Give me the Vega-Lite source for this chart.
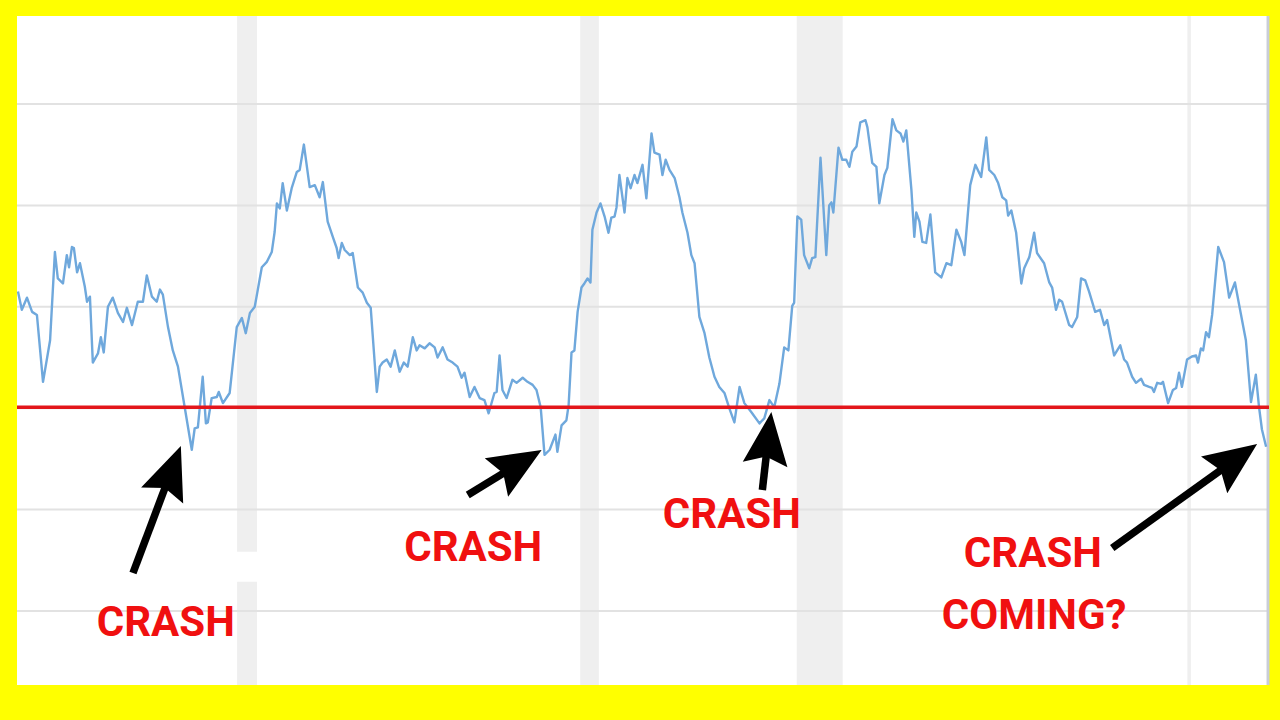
{
  "$schema": "https://vega.github.io/schema/vega-lite/v6.json",
  "width": 1252,
  "height": 669,
  "autosize": {"type": "none"},
  "padding": {"left": 17, "top": 16, "right": 11, "bottom": 35},
  "background": "#ffff00",
  "config": {"view": {"fill": "#ffffff", "stroke": null}},
  "datasets": {
    "series": [
      {"t":1983.79,"v":91.5},{"t":1983.91,"v":89.7},{"t":1984.07,"v":90.9},{"t":1984.23,"v":89.5},{"t":1984.38,"v":89.2},{"t":1984.57,"v":82.6},{"t":1984.79,"v":86.7},{"t":1984.94,"v":95.4},{"t":1985.03,"v":92.8},{"t":1985.19,"v":92.3},{"t":1985.31,"v":95.1},{"t":1985.38,"v":93.9},{"t":1985.47,"v":95.9},{"t":1985.53,"v":95.8},{"t":1985.63,"v":93.4},{"t":1985.72,"v":94.3},{"t":1985.87,"v":92.0},{"t":1985.94,"v":90.5},{"t":1986.03,"v":91.0},{"t":1986.12,"v":84.5},{"t":1986.28,"v":85.4},{"t":1986.37,"v":87.0},{"t":1986.46,"v":85.5},{"t":1986.59,"v":90.0},{"t":1986.74,"v":90.9},{"t":1986.90,"v":89.4},{"t":1987.06,"v":88.5},{"t":1987.18,"v":89.9},{"t":1987.34,"v":88.2},{"t":1987.52,"v":90.5},{"t":1987.68,"v":90.5},{"t":1987.80,"v":93.1},{"t":1987.96,"v":91.0},{"t":1988.11,"v":90.5},{"t":1988.21,"v":91.7},{"t":1988.30,"v":91.2},{"t":1988.46,"v":88.0},{"t":1988.61,"v":85.7},{"t":1988.77,"v":84.1},{"t":1988.98,"v":80.1},{"t":1989.20,"v":75.9},{"t":1989.29,"v":78.0},{"t":1989.39,"v":78.1},{"t":1989.54,"v":83.1},{"t":1989.64,"v":78.5},{"t":1989.70,"v":78.6},{"t":1989.82,"v":81.0},{"t":1989.98,"v":81.1},{"t":1990.04,"v":81.6},{"t":1990.17,"v":80.5},{"t":1990.38,"v":81.5},{"t":1990.60,"v":88.0},{"t":1990.76,"v":88.9},{"t":1990.88,"v":87.4},{"t":1991.01,"v":89.4},{"t":1991.16,"v":90.0},{"t":1991.38,"v":93.9},{"t":1991.53,"v":94.4},{"t":1991.69,"v":95.4},{"t":1991.78,"v":97.4},{"t":1991.85,"v":100.2},{"t":1991.94,"v":99.7},{"t":1992.03,"v":102.2},{"t":1992.16,"v":99.5},{"t":1992.31,"v":101.7},{"t":1992.47,"v":103.3},{"t":1992.56,"v":103.5},{"t":1992.69,"v":106.0},{"t":1992.87,"v":101.8},{"t":1993.03,"v":102.0},{"t":1993.18,"v":100.8},{"t":1993.28,"v":102.3},{"t":1993.43,"v":98.4},{"t":1993.59,"v":96.9},{"t":1993.71,"v":95.8},{"t":1993.77,"v":94.8},{"t":1993.87,"v":96.3},{"t":1993.96,"v":95.6},{"t":1994.12,"v":95.1},{"t":1994.21,"v":95.3},{"t":1994.37,"v":91.9},{"t":1994.52,"v":91.4},{"t":1994.65,"v":90.4},{"t":1994.77,"v":89.9},{"t":1994.96,"v":81.6},{"t":1995.05,"v":84.1},{"t":1995.14,"v":84.5},{"t":1995.27,"v":84.8},{"t":1995.39,"v":84.1},{"t":1995.52,"v":85.7},{"t":1995.67,"v":83.6},{"t":1995.80,"v":84.5},{"t":1995.92,"v":84.1},{"t":1996.08,"v":87.0},{"t":1996.20,"v":85.7},{"t":1996.29,"v":86.2},{"t":1996.45,"v":85.9},{"t":1996.60,"v":86.4},{"t":1996.76,"v":86.0},{"t":1996.85,"v":85.0},{"t":1997.01,"v":86.0},{"t":1997.16,"v":84.8},{"t":1997.32,"v":84.5},{"t":1997.47,"v":84.1},{"t":1997.60,"v":83.0},{"t":1997.69,"v":83.5},{"t":1997.85,"v":81.1},{"t":1998.00,"v":82.1},{"t":1998.16,"v":81.0},{"t":1998.31,"v":80.8},{"t":1998.44,"v":79.5},{"t":1998.62,"v":81.5},{"t":1998.69,"v":81.6},{"t":1998.78,"v":85.2},{"t":1998.87,"v":81.8},{"t":1999.00,"v":81.0},{"t":1999.18,"v":82.8},{"t":1999.31,"v":82.5},{"t":1999.50,"v":83.0},{"t":1999.65,"v":82.6},{"t":1999.81,"v":82.3},{"t":1999.93,"v":81.8},{"t":2000.06,"v":80.1},{"t":2000.18,"v":75.4},{"t":2000.34,"v":75.9},{"t":2000.52,"v":77.4},{"t":2000.58,"v":75.7},{"t":2000.71,"v":78.3},{"t":2000.86,"v":78.8},{"t":2000.93,"v":80.3},{"t":2001.02,"v":85.5},{"t":2001.11,"v":85.7},{"t":2001.21,"v":89.5},{"t":2001.33,"v":91.9},{"t":2001.42,"v":92.3},{"t":2001.52,"v":92.8},{"t":2001.61,"v":92.4},{"t":2001.67,"v":97.6},{"t":2001.80,"v":99.3},{"t":2001.92,"v":100.2},{"t":2002.05,"v":98.9},{"t":2002.17,"v":97.3},{"t":2002.26,"v":98.8},{"t":2002.36,"v":98.9},{"t":2002.42,"v":99.8},{"t":2002.51,"v":103.0},{"t":2002.67,"v":99.3},{"t":2002.76,"v":102.7},{"t":2002.86,"v":101.7},{"t":2002.98,"v":103.0},{"t":2003.07,"v":102.2},{"t":2003.23,"v":104.0},{"t":2003.35,"v":100.7},{"t":2003.51,"v":107.1},{"t":2003.60,"v":105.2},{"t":2003.76,"v":105.0},{"t":2003.85,"v":103.0},{"t":2003.95,"v":104.5},{"t":2004.07,"v":103.5},{"t":2004.23,"v":102.7},{"t":2004.38,"v":100.8},{"t":2004.47,"v":99.3},{"t":2004.63,"v":97.3},{"t":2004.75,"v":95.1},{"t":2004.85,"v":94.3},{"t":2005.00,"v":89.0},{"t":2005.16,"v":87.4},{"t":2005.31,"v":85.0},{"t":2005.47,"v":83.1},{"t":2005.62,"v":82.1},{"t":2005.78,"v":81.5},{"t":2005.93,"v":80.0},{"t":2006.09,"v":78.6},{"t":2006.25,"v":82.1},{"t":2006.40,"v":80.5},{"t":2006.62,"v":79.6},{"t":2006.87,"v":78.5},{"t":2007.02,"v":79.0},{"t":2007.18,"v":80.8},{"t":2007.33,"v":80.1},{"t":2007.49,"v":82.4},{"t":2007.64,"v":86.0},{"t":2007.77,"v":85.7},{"t":2007.89,"v":90.1},{"t":2007.95,"v":90.4},{"t":2008.05,"v":98.9},{"t":2008.17,"v":98.6},{"t":2008.26,"v":95.1},{"t":2008.42,"v":93.8},{"t":2008.51,"v":94.8},{"t":2008.61,"v":94.9},{"t":2008.77,"v":104.7},{"t":2008.95,"v":95.1},{"t":2009.04,"v":100.0},{"t":2009.11,"v":100.3},{"t":2009.17,"v":99.3},{"t":2009.33,"v":105.7},{"t":2009.45,"v":104.5},{"t":2009.57,"v":104.5},{"t":2009.67,"v":103.8},{"t":2009.76,"v":105.3},{"t":2009.89,"v":105.8},{"t":2010.01,"v":108.2},{"t":2010.17,"v":108.4},{"t":2010.23,"v":107.7},{"t":2010.38,"v":104.2},{"t":2010.51,"v":103.8},{"t":2010.60,"v":100.2},{"t":2010.76,"v":103.0},{"t":2010.85,"v":103.7},{"t":2011.01,"v":108.5},{"t":2011.13,"v":107.4},{"t":2011.26,"v":107.1},{"t":2011.35,"v":106.3},{"t":2011.44,"v":107.4},{"t":2011.60,"v":101.5},{"t":2011.69,"v":96.9},{"t":2011.75,"v":99.3},{"t":2011.85,"v":98.4},{"t":2011.94,"v":96.4},{"t":2012.06,"v":96.3},{"t":2012.19,"v":99.1},{"t":2012.34,"v":93.4},{"t":2012.53,"v":92.9},{"t":2012.69,"v":94.3},{"t":2012.84,"v":94.1},{"t":2013.00,"v":97.6},{"t":2013.15,"v":96.4},{"t":2013.25,"v":95.1},{"t":2013.43,"v":102.0},{"t":2013.59,"v":104.0},{"t":2013.77,"v":102.8},{"t":2013.93,"v":106.7},{"t":2014.02,"v":103.5},{"t":2014.18,"v":103.0},{"t":2014.30,"v":102.2},{"t":2014.43,"v":100.8},{"t":2014.55,"v":100.5},{"t":2014.61,"v":99.0},{"t":2014.71,"v":99.5},{"t":2014.86,"v":97.3},{"t":2015.02,"v":92.3},{"t":2015.11,"v":93.8},{"t":2015.27,"v":94.9},{"t":2015.42,"v":97.3},{"t":2015.51,"v":95.3},{"t":2015.73,"v":94.3},{"t":2015.89,"v":92.4},{"t":2015.98,"v":91.9},{"t":2016.10,"v":89.7},{"t":2016.20,"v":90.7},{"t":2016.29,"v":90.5},{"t":2016.51,"v":88.2},{"t":2016.60,"v":88.0},{"t":2016.76,"v":89.0},{"t":2016.88,"v":92.8},{"t":2017.01,"v":92.6},{"t":2017.13,"v":91.5},{"t":2017.32,"v":89.5},{"t":2017.47,"v":89.7},{"t":2017.60,"v":88.2},{"t":2017.69,"v":88.7},{"t":2017.91,"v":85.2},{"t":2018.10,"v":86.2},{"t":2018.22,"v":84.8},{"t":2018.31,"v":84.5},{"t":2018.47,"v":83.1},{"t":2018.59,"v":82.5},{"t":2018.75,"v":82.9},{"t":2018.84,"v":82.3},{"t":2019.00,"v":82.1},{"t":2019.09,"v":82.0},{"t":2019.15,"v":81.6},{"t":2019.25,"v":82.5},{"t":2019.37,"v":82.4},{"t":2019.43,"v":82.6},{"t":2019.59,"v":80.5},{"t":2019.74,"v":81.8},{"t":2019.84,"v":82.0},{"t":2019.93,"v":83.5},{"t":2020.02,"v":82.1},{"t":2020.18,"v":84.8},{"t":2020.33,"v":85.1},{"t":2020.46,"v":85.2},{"t":2020.52,"v":84.5},{"t":2020.61,"v":85.9},{"t":2020.68,"v":85.7},{"t":2020.77,"v":87.5},{"t":2020.86,"v":87.0},{"t":2020.96,"v":89.2},{"t":2021.15,"v":95.9},{"t":2021.33,"v":94.4},{"t":2021.49,"v":90.9},{"t":2021.67,"v":92.4},{"t":2021.80,"v":90.2},{"t":2022.01,"v":86.7},{"t":2022.17,"v":80.6},{"t":2022.32,"v":83.3},{"t":2022.42,"v":80.1},{"t":2022.51,"v":77.9},{"t":2022.64,"v":76.2}
    ],
    "recessions": [
      {"start": 1990.61, "end": 1991.23, "lo": 65.85, "hi": 118.68},
      {"start": 1990.61, "end": 1991.23, "lo": 52.7, "hi": 62.89},
      {"start": 2001.29, "end": 2001.87, "lo": 52.7, "hi": 118.68},
      {"start": 2008.03, "end": 2009.46, "lo": 52.7, "hi": 118.68},
      {"start": 2020.19, "end": 2020.30, "lo": 52.7, "hi": 118.68}
    ],
    "grid": [{"g": 60}, {"g": 70}, {"g": 80}, {"g": 90}, {"g": 100}, {"g": 110}],
    "threshold": [{"level": 80.1}],
    "edge": [{"e": 2022.70}],
    "arrows": [
      {"tx": 1987.37, "ty": 63.75, "sx": 1988.53, "sy": 73.51, "hx": 1988.86, "hy": 76.27, "dir": 20.7},
      {"tx": 1997.79, "ty": 71.44, "sx": 1999.42, "sy": 74.60, "hx": 2000.09, "hy": 75.88, "dir": 58.7},
      {"tx": 2006.96, "ty": 71.93, "sx": 2007.13, "sy": 76.67, "hx": 2007.24, "hy": 79.63, "dir": 6.8},
      {"tx": 2017.85, "ty": 66.21, "sx": 2021.73, "sy": 75.03, "hx": 2022.36, "hy": 76.47, "dir": 54.3}
    ],
    "labels": [
      {"x": 1988.39, "y": 58.82, "text": "CRASH"},
      {"x": 1997.96, "y": 66.21, "text": "CRASH"},
      {"x": 2006.01, "y": 69.47, "text": "CRASH"},
      {"x": 2015.38, "y": 65.62, "text": "CRASH"},
      {"x": 2015.42, "y": 59.51, "text": "COMING?"}
    ]
  },
  "layer": [
    {
      "data": {"name": "recessions"},
      "mark": {"type": "rect", "color": "#efefef"},
      "encoding": {
        "x": {"field": "start", "type": "quantitative", "scale": {"domain": [1983.76, 2022.73], "nice": false, "zero": false}, "axis": null},
        "x2": {"field": "end"},
        "y": {"field": "lo", "type": "quantitative", "scale": {"domain": [52.7, 118.68], "nice": false, "zero": false}, "axis": null},
        "y2": {"field": "hi"}
      }
    },
    {
      "data": {"name": "grid"},
      "mark": {"type": "rule", "color": "#e2e2e2", "strokeWidth": 2},
      "encoding": {
        "y": {"field": "g", "type": "quantitative", "scale": {"domain": [52.7, 118.68], "nice": false, "zero": false}, "axis": null}
      }
    },
    {
      "data": {"name": "edge"},
      "mark": {"type": "rule", "color": "#c9cdd8", "strokeWidth": 3},
      "encoding": {
        "x": {"field": "e", "type": "quantitative", "scale": {"domain": [1983.76, 2022.73], "nice": false, "zero": false}, "axis": null}
      }
    },
    {
      "data": {"name": "series"},
      "mark": {"type": "line", "color": "#6fa8dc", "strokeWidth": 2.4, "strokeJoin": "round"},
      "encoding": {
        "x": {"field": "t", "type": "quantitative", "scale": {"domain": [1983.76, 2022.73], "nice": false, "zero": false}, "axis": null},
        "y": {"field": "v", "type": "quantitative", "scale": {"domain": [52.7, 118.68], "nice": false, "zero": false}, "axis": null}
      }
    },
    {
      "data": {"name": "threshold"},
      "mark": {"type": "rule", "color": "#e3161b", "strokeWidth": 3.5},
      "encoding": {
        "y": {"field": "level", "type": "quantitative", "scale": {"domain": [52.7, 118.68], "nice": false, "zero": false}, "axis": null}
      }
    },
    {
      "data": {"name": "arrows"},
      "mark": {"type": "rule", "color": "#000000", "strokeWidth": 7.5, "strokeCap": "butt"},
      "encoding": {
        "x": {"field": "tx", "type": "quantitative", "scale": {"domain": [1983.76, 2022.73], "nice": false, "zero": false}, "axis": null},
        "y": {"field": "ty", "type": "quantitative", "scale": {"domain": [52.7, 118.68], "nice": false, "zero": false}, "axis": null},
        "x2": {"field": "sx"},
        "y2": {"field": "sy"}
      }
    },
    {
      "data": {"name": "arrows"},
      "mark": {"type": "point", "shape": "M0,0 L0.85,2 L0,1.7 L-0.85,2 Z", "filled": true, "fill": "#000000", "opacity": 1, "strokeWidth": 0, "size": 2800},
      "encoding": {
        "x": {"field": "hx", "type": "quantitative", "scale": {"domain": [1983.76, 2022.73], "nice": false, "zero": false}, "axis": null},
        "y": {"field": "hy", "type": "quantitative", "scale": {"domain": [52.7, 118.68], "nice": false, "zero": false}, "axis": null},
        "angle": {"field": "dir", "type": "quantitative", "scale": null}
      }
    },
    {
      "data": {"name": "labels"},
      "mark": {"type": "text", "font": "Roboto", "fontWeight": "bold", "fontSize": 42, "color": "#f01010", "align": "center", "baseline": "middle"},
      "encoding": {
        "x": {"field": "x", "type": "quantitative", "scale": {"domain": [1983.76, 2022.73], "nice": false, "zero": false}, "axis": null},
        "y": {"field": "y", "type": "quantitative", "scale": {"domain": [52.7, 118.68], "nice": false, "zero": false}, "axis": null},
        "text": {"field": "text"}
      }
    }
  ]
}
